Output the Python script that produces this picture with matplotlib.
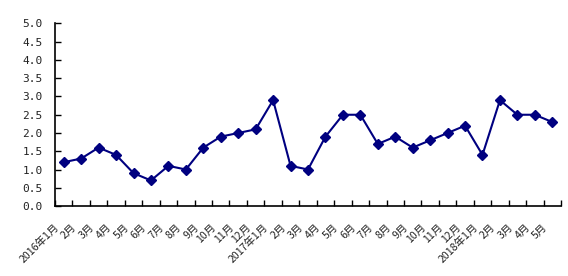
import matplotlib
matplotlib.use("Agg")
import matplotlib.pyplot as plt
import matplotlib.transforms as mtransforms
import numpy as np

plt.rcParams['font.family'] = ['Noto Sans CJK SC', 'DejaVu Sans']

# month labels and values
months = (['2016年1月'] + [f'{m}月' for m in range(2, 13)]
          + ['2017年1月'] + [f'{m}月' for m in range(2, 13)]
          + ['2018年1月'] + [f'{m}月' for m in range(2, 6)])
values = [1.2, 1.3, 1.6, 1.4, 0.9, 0.7, 1.1, 1.0, 1.6, 1.9, 2.0, 2.1,
          2.9, 1.1, 1.0, 1.9, 2.5, 2.5, 1.7, 1.9, 1.6, 1.8, 2.0, 2.2,
          1.4, 2.9, 2.5, 2.5, 2.3]
y_ticks = np.arange(0, 5.01, 0.5)

fig = plt.figure(figsize=(5.68, 2.76), dpi=100)
ax = fig.add_axes([0.0968, 0.2536, 0.8909, 0.6613])

x = np.arange(len(values))
ax.plot(x, values, color='#000080', lw=1.5, marker='D', markersize=5.4,
        markeredgewidth=1, markeredgecolor='#000080', markerfacecolor='#000080')

ax.set_xlim(-0.5, len(values) - 0.5)
ax.set_ylim(0, 5)
ax.set_yticks(y_ticks)
ax.set_yticklabels([f'{v:.1f}' for v in y_ticks], fontsize=8,
                   family='DejaVu Sans Mono', color='#222222')

# ticks sit on the category boundaries, labels drawn at the centres
ax.set_xticks(np.arange(-0.5, len(values)))
ax.set_xticklabels([])
trans = (mtransforms.blended_transform_factory(ax.transData, ax.transAxes)
         + mtransforms.ScaledTranslation(-10 / 100, -16 / 100, fig.dpi_scale_trans))
for xi, lab in zip(x, months):
    ax.text(xi, 0, lab, transform=trans, rotation=45, ha='right', va='top',
            rotation_mode='anchor', fontsize=7.6, color='#222222')
ax.tick_params(axis='x', direction='in', length=4, width=1)
ax.tick_params(axis='y', direction='in', length=4, width=1, pad=9)

for s in ['top', 'right']:
    ax.spines[s].set_visible(False)
for s in ['left', 'bottom']:
    ax.spines[s].set_linewidth(1.2)

fig.savefig('out.png', dpi=100)
